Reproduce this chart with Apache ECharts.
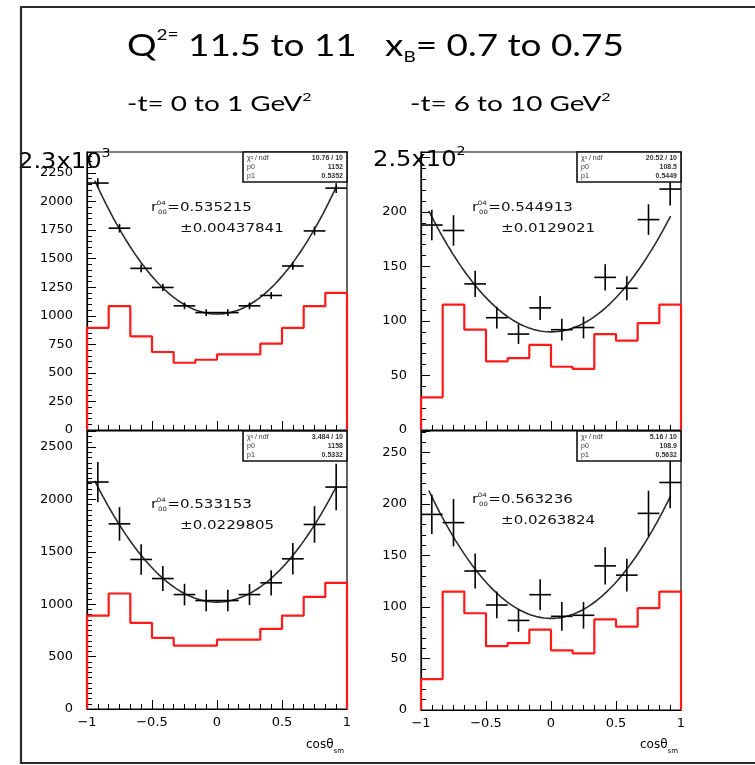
<!DOCTYPE html>
<html>
<head>
<meta charset="utf-8">
<script src="https://cdn.jsdelivr.net/npm/echarts@6/dist/echarts.min.js"></script>
<style>
html, body { margin: 0; padding: 0; background: #fff; }
#c { width: 755px; height: 765px; }
</style>
</head>
<body>
<div id="c"></div>
<script>
// cos(theta) binning shared by all four panels
const binEdges = [-1, -0.8333, -0.6667, -0.5, -0.3333, -0.1667, 0, 0.1667, 0.3333, 0.5, 0.6667, 0.8333, 1];

// top-left: -t = 0 to 1 GeV^2 (upper row)
const tlCounts = [2162, 1767, 1415, 1248, 1087, 1028, 1028, 1087, 1178, 1436, 1743, 2118];
const tlErrors = [42, 38, 34, 32, 30, 29, 29, 30, 31, 34, 38, 42];
const tlHist   = [894, 1084, 820, 683, 589, 615, 662, 662, 756, 894, 1084, 1201];

// top-right: -t = 6 to 10 GeV^2 (upper row)
const trCounts = [188, 183, 134, 103, 88, 112, 92, 94, 140, 130, 193, 221];
const trErrors = [14, 14, 12, 10, 9, 11, 10, 10, 12, 11, 14, 15];
const trHist   = [30, 115, 92, 63, 66, 78, 58, 56, 88, 82, 98, 115];

// bottom-left: -t = 0 to 1 GeV^2 (lower row)
const blCounts = [2166, 1767, 1427, 1245, 1092, 1035, 1035, 1092, 1204, 1433, 1761, 2118];
const blErrors = [190, 160, 146, 120, 103, 103, 103, 100, 120, 150, 175, 222];
const blHist   = [892, 1102, 822, 678, 605, 605, 662, 662, 764, 892, 1070, 1204];

// bottom-right: -t = 6 to 10 GeV^2 (lower row)
const brCounts = [190, 182, 135, 102, 87, 112, 91, 92, 140, 131, 191, 221];
const brErrors = [19, 23, 17, 13, 11, 15, 14, 13, 18, 16, 22, 25];
const brHist   = [30, 115, 94, 62, 65, 78, 58, 55, 88, 81, 99, 115];

// fitted spin-density element r^04_00, its error, and fit level at cos(theta)=0
const fitR      = [0.535215, 0.544913, 0.533153, 0.563236];
const fitRErr   = ['0.00437841', '0.0129021', '0.0229805', '0.0263824'];
const fitLevel0 = [1015, 90, 1020, 89];
const fitRange  = [-0.94, 0.92];

// stat box rows: chi2/ndf, p0, p1
const statChi2 = ['10.76 / 10', '20.52 / 10', '3.484 / 10', '5.16 / 10'];
const statP0   = ['1152', '108.5', '1158', '108.9'];
const statP1   = ['0.5352', '0.5449', '0.5332', '0.5632'];

// axis ranges and printed tick labels
const yMax   = [2434, 255, 2653, 271];
const yStep  = [250, 50, 500, 50];
const yMinor = [5, 5, 10, 5];
const tlYTicks = [0, 250, 500, 750, 1000, 1250, 1500, 1750, 2000, 2250];
const trYTicks = [0, 50, 100, 150, 200];
const blYTicks = [0, 500, 1000, 1500, 2000, 2500];
const brYTicks = [0, 50, 100, 150, 200, 250];
const xTickValues = [-1, -0.5, 0, 0.5, 1];
const xTickLabels = ['\u22121', '\u22120.5', '0', '0.5', '1'];
const exponentLabels = [['2.3x10', '3'], ['2.5x10', '2'], null, null];

const counts = [tlCounts, trCounts, blCounts, brCounts];
const errors = [tlErrors, trErrors, blErrors, brErrors];
const hists  = [tlHist, trHist, blHist, brHist];
const yTicks = [tlYTicks, trYTicks, blYTicks, brYTicks];

// panel frames in pixels
const grids = [
  { left: 87,  top: 152, width: 260, height: 278 },
  { left: 421, top: 152, width: 260, height: 278 },
  { left: 87,  top: 431, width: 260, height: 278 },
  { left: 421, top: 431, width: 260, height: 279 }
];

const FONT = 'DejaVu Sans';

function histPath(h) {
  const pts = [[binEdges[0], 0]];
  for (let i = 0; i < h.length; i++) {
    pts.push([binEdges[i], h[i]]);
    pts.push([binEdges[i + 1], h[i]]);
  }
  pts.push([binEdges[binEdges.length - 1], 0]);
  return pts;
}

// W(cos) = A[(1 - r) + (3r - 1)cos^2], scaled so that W(0) = level
function fitPath(r, level) {
  const pts = [];
  const n = 90;
  for (let i = 0; i <= n; i++) {
    const x = fitRange[0] + (fitRange[1] - fitRange[0]) * i / n;
    pts.push([x, level * (1 + (3 * r - 1) / (1 - r) * x * x)]);
  }
  return pts;
}

function pointRows(c, e) {
  return c.map((v, i) => {
    const lo = binEdges[i], hi = binEdges[i + 1];
    return [(lo + hi) / 2, v, e[i], (hi - lo) / 2];
  });
}

function renderCross(params, api) {
  const x = api.value(0), y = api.value(1), e = api.value(2), h = api.value(3);
  const l = api.coord([x - h, y]), r = api.coord([x + h, y]);
  const t = api.coord([x, y + e]), b = api.coord([x, y - e]);
  const st = { stroke: '#000', lineWidth: 1.6 };
  return {
    type: 'group',
    children: [
      { type: 'line', shape: { x1: l[0], y1: l[1], x2: r[0], y2: r[1] }, style: st },
      { type: 'line', shape: { x1: t[0], y1: t[1], x2: b[0], y2: b[1] }, style: st }
    ]
  };
}

const xAxes = [], yAxes = [], series = [], graphics = [];

grids.forEach((g, i) => {
  const bottomRow = i >= 2;
  xAxes.push({
    gridIndex: i, type: 'value', min: -1, max: 1, interval: 0.5,
    axisLine: { show: true, onZero: false, lineStyle: { color: '#000', width: 1.2 } },
    axisTick: { show: true, inside: true, length: 9, lineStyle: { color: '#000', width: 1 } },
    minorTick: { show: true, splitNumber: 6, length: 5, lineStyle: { color: '#000', width: 1 } },
    splitLine: { show: false },
    axisLabel: {
      show: bottomRow, margin: 7, color: '#000', fontFamily: FONT, fontSize: 13,
      formatter: v => {
        const k = xTickValues.findIndex(t => Math.abs(t - v) < 1e-6);
        return k >= 0 ? xTickLabels[k] : '';
      }
    }
  });
  yAxes.push({
    gridIndex: i, type: 'value', min: 0, max: yMax[i], interval: yStep[i],
    axisLine: { show: true, onZero: false, lineStyle: { color: '#000', width: 1.2 } },
    axisTick: { show: true, inside: true, length: 9, lineStyle: { color: '#000', width: 1 } },
    minorTick: { show: true, splitNumber: yMinor[i], length: 5, lineStyle: { color: '#000', width: 1 } },
    splitLine: { show: false },
    axisLabel: {
      show: true, margin: 14, color: '#000', fontFamily: FONT, fontSize: 13,
      showMaxLabel: false,
      formatter: v => (yTicks[i].includes(v) ? String(v) : '')
    }
  });

  series.push({
    type: 'line', xAxisIndex: i, yAxisIndex: i, data: histPath(hists[i]),
    showSymbol: false, symbol: 'none', animation: false, z: 3,
    lineStyle: { color: '#ff1a1a', width: 2.2 }
  });
  series.push({
    type: 'line', xAxisIndex: i, yAxisIndex: i, data: fitPath(fitR[i], fitLevel0[i]),
    showSymbol: false, symbol: 'none', animation: false, smooth: false, z: 4,
    lineStyle: { color: '#2a2a2a', width: 1.6 }
  });
  series.push({
    type: 'custom', xAxisIndex: i, yAxisIndex: i, data: pointRows(counts[i], errors[i]),
    encode: { x: 0, y: 1 }, renderItem: renderCross, animation: false, z: 5, clip: true
  });

  const gy = g.top, right = g.left + g.width;

  // stat box in the upper-right corner of the frame
  const bx = right - 104, bw = 104, bh = 30;
  graphics.push({
    type: 'rect', z: 100, shape: { x: bx, y: gy, width: bw, height: bh },
    style: { fill: '#fff', stroke: '#111', lineWidth: 1.6 }
  });
  const rowsL = ['\u03C7\u00B2 / ndf', 'p0', 'p1'];
  const rowsR = [statChi2[i], statP0[i], statP1[i]];
  rowsL.forEach((t, k) => {
    graphics.push({ type: 'text', z: 101, x: bx + 4, y: gy + 6 + k * 9,
      style: { text: t, fontFamily: 'Liberation Sans', fontSize: 7, fill: '#333', verticalAlign: 'middle' } });
    graphics.push({ type: 'text', z: 101, x: right - 4, y: gy + 6 + k * 9,
      style: { text: rowsR[k], fontFamily: 'Liberation Sans', fontSize: 7, fill: '#333', align: 'right', verticalAlign: 'middle', fontWeight: 'bold' } });
  });

  // fitted r^04_00 annotation
  const left = i % 2 === 0;
  const rx = left ? 151 : 472;
  const ry = bottomRow ? (left ? 505 : 500) : 208;
  const txt = (t, x, y, size) => ({ type: 'text', x: x, y: y,
    style: { text: t, fontFamily: FONT, fontSize: size, fill: '#111', verticalAlign: 'middle' } });
  graphics.push({
    type: 'group', z: 102, x: rx, y: ry, scaleX: 1.16,
    children: [
      txt('r', 0, 0, 13),
      txt('04', 5, -5, 6),
      txt('00', 6, 4, 6),
      txt('=' + fitR[i], 14, 0, 13),
      txt('\u00B1' + fitRErr[i], 25, 21, 13)
    ]
  });

  // axis scale exponent on the upper panels
  if (exponentLabels[i]) {
    graphics.push({ type: 'text', z: 103, x: left ? 18 : 373, y: left ? 160 : 158, scaleX: 1.1,
      style: {
        text: '{m|' + exponentLabels[i][0] + '}{s|' + exponentLabels[i][1] + '}',
        verticalAlign: 'middle',
        rich: {
          m: { fontFamily: FONT, fontSize: 22, color: '#000', lineHeight: 26, verticalAlign: 'bottom' },
          s: { fontFamily: FONT, fontSize: 13, color: '#000', lineHeight: 14, verticalAlign: 'top' }
        }
      } });
  }

  // x-axis title on the lower panels
  if (bottomRow) {
    graphics.push({ type: 'text', z: 103, x: right - 3, y: 747,
      style: {
        text: '{m|cos\u03B8}{s|sm}', align: 'right', verticalAlign: 'middle',
        rich: {
          m: { fontFamily: FONT, fontSize: 12, color: '#111', lineHeight: 16, verticalAlign: 'top' },
          s: { fontFamily: FONT, fontSize: 7, color: '#111', lineHeight: 8, verticalAlign: 'bottom' }
        }
      } });
  }
});

// headline and bin captions
graphics.push({ type: 'text', z: 110, x: 127, y: 46, scaleX: 1.19,
  style: {
    text: '{m|Q}{s|2=}{m| 11.5 to 11   x}{b|B}{m|= 0.7 to 0.75}', verticalAlign: 'middle',
    rich: {
      m: { fontFamily: 'Lato', fontSize: 31, color: '#111', lineHeight: 38 },
      s: { fontFamily: 'Lato', fontSize: 16, color: '#111', lineHeight: 16, verticalAlign: 'top' },
      b: { fontFamily: 'Lato', fontSize: 16, color: '#111', lineHeight: 14, verticalAlign: 'bottom' }
    }
  } });
[['-t= 0 to 1 GeV', 127], ['-t= 6 to 10 GeV', 410]].forEach(([t, x]) => {
  graphics.push({ type: 'text', z: 110, x: x, y: 104, scaleX: 1.33,
    style: {
      text: '{m|' + t + '}{s|2}', verticalAlign: 'middle',
      rich: {
        m: { fontFamily: 'Lato', fontSize: 21, color: '#111', lineHeight: 26 },
        s: { fontFamily: 'Lato', fontSize: 12, color: '#111', lineHeight: 12, verticalAlign: 'top' }
      }
    } });
});

// outer slide frame
graphics.push({ type: 'polyline', z: 120,
  shape: { points: [[755, 7], [21, 7], [21, 763], [755, 763]] },
  style: { fill: 'none', stroke: '#2b2b2b', lineWidth: 2.2 } });

const chart = echarts.init(document.getElementById('c'));
chart.setOption({
  backgroundColor: '#fff',
  animation: false,
  grid: grids.map(g => Object.assign({ show: true, borderColor: '#000', borderWidth: 1.2, backgroundColor: 'transparent', containLabel: false }, g)),
  xAxis: xAxes,
  yAxis: yAxes,
  series: series,
  graphic: graphics
});
</script>
</body>
</html>
